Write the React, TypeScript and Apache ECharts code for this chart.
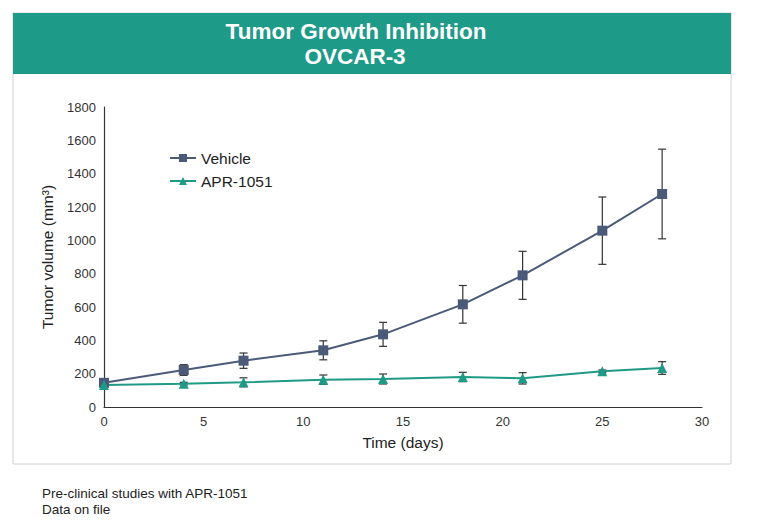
import React, { useEffect, useRef } from "react";
import * as echarts from "echarts";

const days = [0, 4, 7, 11, 14, 18, 21, 25, 28];
const vehicleMean = [145, 222, 278, 340, 436, 616, 790, 1058, 1278];
const vehicleErr = [0, 32, 46, 57, 72, 113, 144, 202, 269];
const aprMean = [132, 140, 148, 164, 168, 180, 172, 214, 234];
const aprErr = [0, 8, 27, 28, 30, 28, 34, 8, 38];
const xTicks = [0, 5, 10, 15, 20, 25, 30];
const yTicks = [0, 200, 400, 600, 800, 1000, 1200, 1400, 1600, 1800];

const seriesNames = ["Vehicle", "APR-1051"];
const titleLines = ["Tumor Growth Inhibition", "OVCAR-3"];
const footerLines = ["Pre-clinical studies with APR-1051", "Data on file"];

const FONT = "'Liberation Sans', Arial, Helvetica, sans-serif";
const VEH = "#4a5a78";
const APR = "#1f9a86";
const TEAL = "#1e9a88";

function errData(mean: number[], err: number[]) {
  return days.map((d, i) => [d, mean[i] - err[i], mean[i] + err[i]]);
}

function errorSeries(mean: number[], err: number[]) {
  return {
    type: "custom",
    z: 1,
    silent: true,
    data: errData(mean, err),
    renderItem: (params: any, api: any) => {
      const x = api.value(0);
      const lo = api.value(1);
      const hi = api.value(2);
      if (hi - lo <= 0) return null;
      const p1 = api.coord([x, hi]);
      const p2 = api.coord([x, lo]);
      const w = 4;
      const style = { stroke: "#333", lineWidth: 1.2 };
      return {
        type: "group",
        children: [
          { type: "line", shape: { x1: p1[0], y1: p1[1], x2: p2[0], y2: p2[1] }, style },
          { type: "line", shape: { x1: p1[0] - w, y1: p1[1], x2: p1[0] + w, y2: p1[1] }, style },
          { type: "line", shape: { x1: p2[0] - w, y1: p2[1], x2: p2[0] + w, y2: p2[1] }, style },
        ],
      };
    },
  };
}

export default function App() {
  const ref = useRef<HTMLDivElement>(null);
  useEffect(() => {
    if (!ref.current) return;
    const chart = echarts.init(ref.current, null, { renderer: "svg" });
    chart.setOption({
      animation: false,
      backgroundColor: "#fff",
      textStyle: { fontFamily: FONT },
      grid: { left: 104, right: 65, top: 107, bottom: 120, containLabel: false },
      legend: {
        orient: "vertical",
        left: 164,
        top: 145,
        itemWidth: 26,
        itemHeight: 10,
        itemGap: 7,
        data: seriesNames,
        textStyle: { fontSize: 15.5, color: "#222", fontFamily: FONT },
      },
      xAxis: {
        type: "value",
        min: xTicks[0],
        max: xTicks[xTicks.length - 1],
        interval: 5,
        name: "Time (days)",
        nameLocation: "middle",
        nameGap: 27,
        nameTextStyle: { fontSize: 15.5, color: "#222", fontFamily: FONT },
        axisLine: { show: true, lineStyle: { color: "#333", width: 1.2 } },
        axisTick: { show: false },
        splitLine: { show: false },
        axisLabel: { fontSize: 13, color: "#333", margin: 8, fontFamily: FONT },
      },
      yAxis: {
        type: "value",
        min: yTicks[0],
        max: yTicks[yTicks.length - 1],
        interval: 200,
        name: "Tumor volume (mm³)",
        nameLocation: "middle",
        nameGap: 49,
        nameTextStyle: { fontSize: 15.5, color: "#222", fontFamily: FONT },
        axisLine: { show: true, lineStyle: { color: "#333", width: 1.2 } },
        axisTick: { show: false },
        splitLine: { show: false },
        axisLabel: {
          fontSize: 13,
          color: "#333",
          margin: 8,
          fontFamily: FONT,
          formatter: (v: number) => String(v),
        },
      },
      graphic: [
        {
          type: "rect",
          shape: { x: 13, y: 13, width: 718, height: 451 },
          style: { fill: "none", stroke: "#d0d0d0", lineWidth: 1 },
          z: 0,
        },
        {
          type: "rect",
          shape: { x: 13, y: 13, width: 718, height: 61 },
          style: { fill: TEAL },
          z: 1,
        },
        {
          type: "text",
          x: 356,
          y: 31.5,
          style: {
            text: titleLines[0],
            fill: "#fff",
            font: `bold 22.5px ${FONT}`,
            textAlign: "center",
            textVerticalAlign: "middle",
          },
          z: 2,
        },
        {
          type: "text",
          x: 355,
          y: 56.5,
          style: {
            text: titleLines[1],
            fill: "#fff",
            font: `bold 22.5px ${FONT}`,
            textAlign: "center",
            textVerticalAlign: "middle",
          },
          z: 2,
        },
        {
          type: "text",
          x: 42,
          y: 493,
          style: {
            text: footerLines[0],
            fill: "#222",
            font: `13.5px ${FONT}`,
            textAlign: "left",
            textVerticalAlign: "middle",
          },
        },
        {
          type: "text",
          x: 42,
          y: 509,
          style: {
            text: footerLines[1],
            fill: "#222",
            font: `13.5px ${FONT}`,
            textAlign: "left",
            textVerticalAlign: "middle",
          },
        },
      ],
      series: [
        errorSeries(vehicleMean, vehicleErr),
        errorSeries(aprMean, aprErr),
        {
          name: seriesNames[0],
          type: "line",
          z: 3,
          data: days.map((d, i) => [d, vehicleMean[i]]),
          symbol: "rect",
          symbolSize: 10,
          lineStyle: { color: VEH, width: 2 },
          itemStyle: { color: VEH },
        },
        {
          name: seriesNames[1],
          type: "line",
          z: 3,
          data: days.map((d, i) => [d, aprMean[i]]),
          symbol: "triangle",
          symbolSize: 10,
          lineStyle: { color: APR, width: 2 },
          itemStyle: { color: APR },
        },
      ],
    });
    return () => chart.dispose();
  }, []);
  return (
    <div
      ref={ref}
      style={{ position: "fixed", left: 0, top: 0, width: 767, height: 527 }}
    />
  );
}
